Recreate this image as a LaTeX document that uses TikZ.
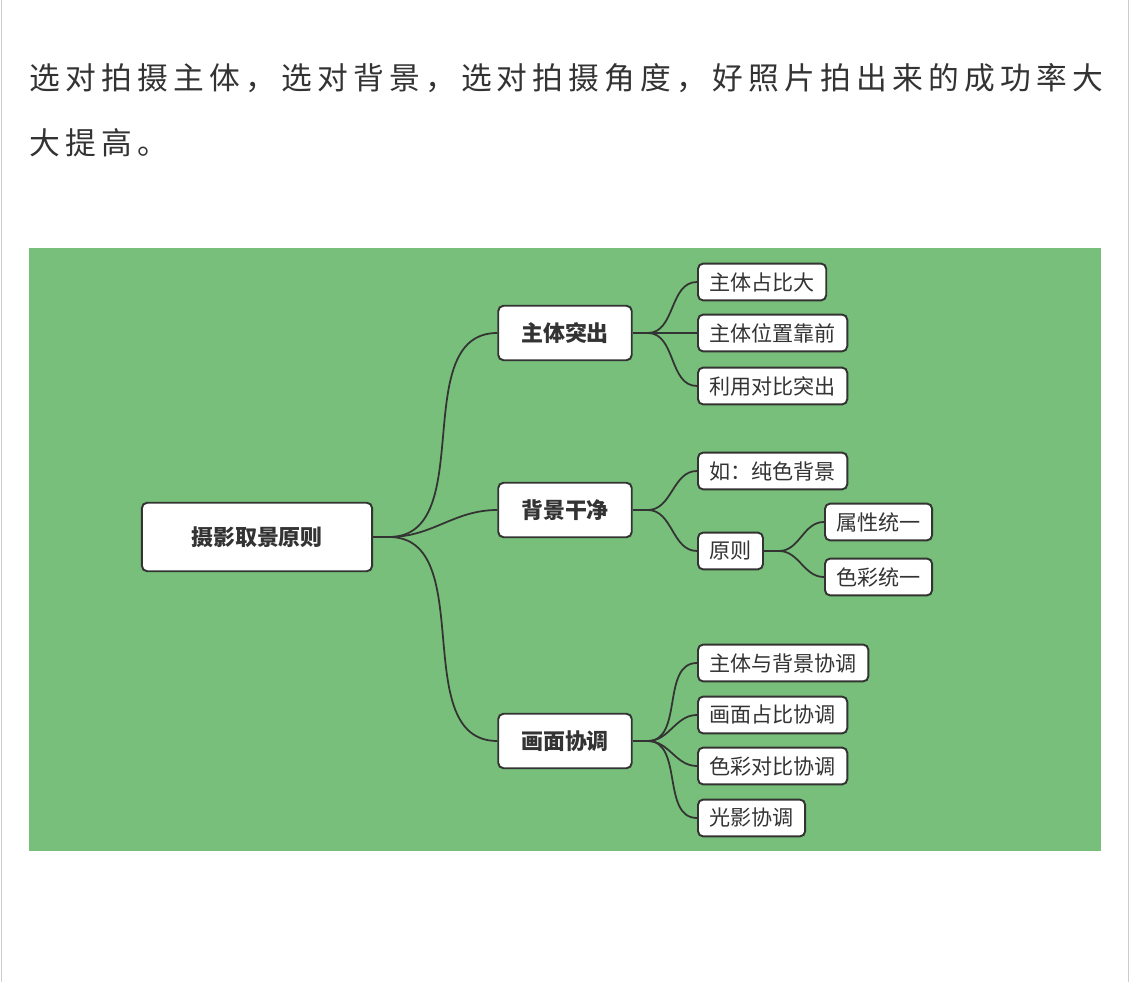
\documentclass[tikz,border=0pt]{standalone}
\usepackage{fontspec}
\newfontfamily\cjk{Noto Sans CJK SC}
\newfontfamily\cjkwide[LetterSpace=17]{Noto Sans CJK SC}
\usetikzlibrary{positioning,calc}
\definecolor{bggreen}{HTML}{77BF7A}
\definecolor{ink}{HTML}{333333}
\tikzset{
    topic/.style={
        draw=ink,
        line width=1.1pt,
        rounded corners=3pt,
        fill=white,
        text=ink,
        font=\cjk\fontsize{12.5}{14}\selectfont,
        inner xsep=0pt,
        minimum height=31pt,
        minimum width=76pt,
    },
    leaf/.style={
        draw=ink,
        line width=1.1pt,
        rounded corners=3pt,
        fill=white,
        text=ink,
        font=\cjk\fontsize{12}{14}\selectfont,
        inner xsep=6.5pt,
        minimum height=21pt,
    },
    link/.style={draw=ink, line width=1pt},
}
\begin{document}
\begin{tikzpicture}[x=0.02cm,y=-0.02cm]
    \useasboundingbox (0,0) rectangle (1130,982);
    \fill[white] (0,0) rectangle (1130,982);
    \draw[gray!40] (1,0) -- (1,982) (1128,0) -- (1128,982);
    \node[anchor=west, inner xsep=0pt, text=ink, font=\cjkwide\fontsize{17.5}{20}\selectfont] (line1) at (29,78) {选对拍摄主体，选对背景，选对拍摄角度，好照片拍出来的成功率大};
    \node[anchor=west, inner xsep=0pt, text=ink, font=\cjkwide\fontsize{17.5}{20}\selectfont] (line2) at (29,143) {大提高。};
    \fill[bggreen] (29,248) rectangle (1101,851);

    % main topics
    \node[topic, minimum width=131pt, minimum height=39pt, font=\cjk\bfseries\fontsize{12.5}{14}\selectfont] (root) at (257,537) {摄影取景原则};
    \node[topic, font=\cjk\bfseries\fontsize{12.5}{14}\selectfont] (subject) at (565,333) {主体突出};
    \node[topic, font=\cjk\bfseries\fontsize{12.5}{14}\selectfont] (backdrop) at (565,510) {背景干净};
    \node[topic, font=\cjk\bfseries\fontsize{12.5}{14}\selectfont] (harmony) at (565,741) {画面协调};

    % leaves
    \node[leaf, anchor=west] (s1) at (697,282) {主体占比大};
    \node[leaf, anchor=west] (s2) at (697,333) {主体位置靠前};
    \node[leaf, anchor=west] (s3) at (697,386) {利用对比突出};
    \node[leaf, anchor=west] (b1) at (697,471) {如：纯色背景};
    \node[leaf, anchor=west] (b2) at (697,551) {原则};
    \node[leaf, anchor=west] (r1) at (824,522) {属性统一};
    \node[leaf, anchor=west] (r2) at (824,577) {色彩统一};
    \node[leaf, anchor=west] (h1) at (697,663) {主体与背景协调};
    \node[leaf, anchor=west] (h2) at (697,715) {画面占比协调};
    \node[leaf, anchor=west] (h3) at (697,766) {色彩对比协调};
    \node[leaf, anchor=west] (h4) at (697,818) {光影协调};

    \coordinate (jroot) at ($(root.east)+(16,0)$);
    \coordinate (jsub) at ($(subject.east)+(15,0)$);
    \coordinate (jback) at ($(backdrop.east)+(15,0)$);
    \coordinate (jharm) at ($(harmony.east)+(15,0)$);
    \coordinate (jrule) at ($(b2.east)+(15,0)$);

    \path[link] (root.east) -- (jroot);
    \foreach \t in {subject,backdrop,harmony}
        \path[link] (jroot) to[out=0,in=180] (\t.west);
    \path[link] (subject.east) -- (jsub);
    \foreach \t in {s1,s2,s3}
        \path[link] (jsub) to[out=0,in=180] (\t.west);
    \path[link] (backdrop.east) -- (jback);
    \foreach \t in {b1,b2}
        \path[link] (jback) to[out=0,in=180] (\t.west);
    \path[link] (b2.east) -- (jrule);
    \foreach \t in {r1,r2}
        \path[link] (jrule) to[out=0,in=180] (\t.west);
    \path[link] (harmony.east) -- (jharm);
    \foreach \t in {h1,h2,h3,h4}
        \path[link] (jharm) to[out=0,in=180] (\t.west);
\end{tikzpicture}
\end{document}
